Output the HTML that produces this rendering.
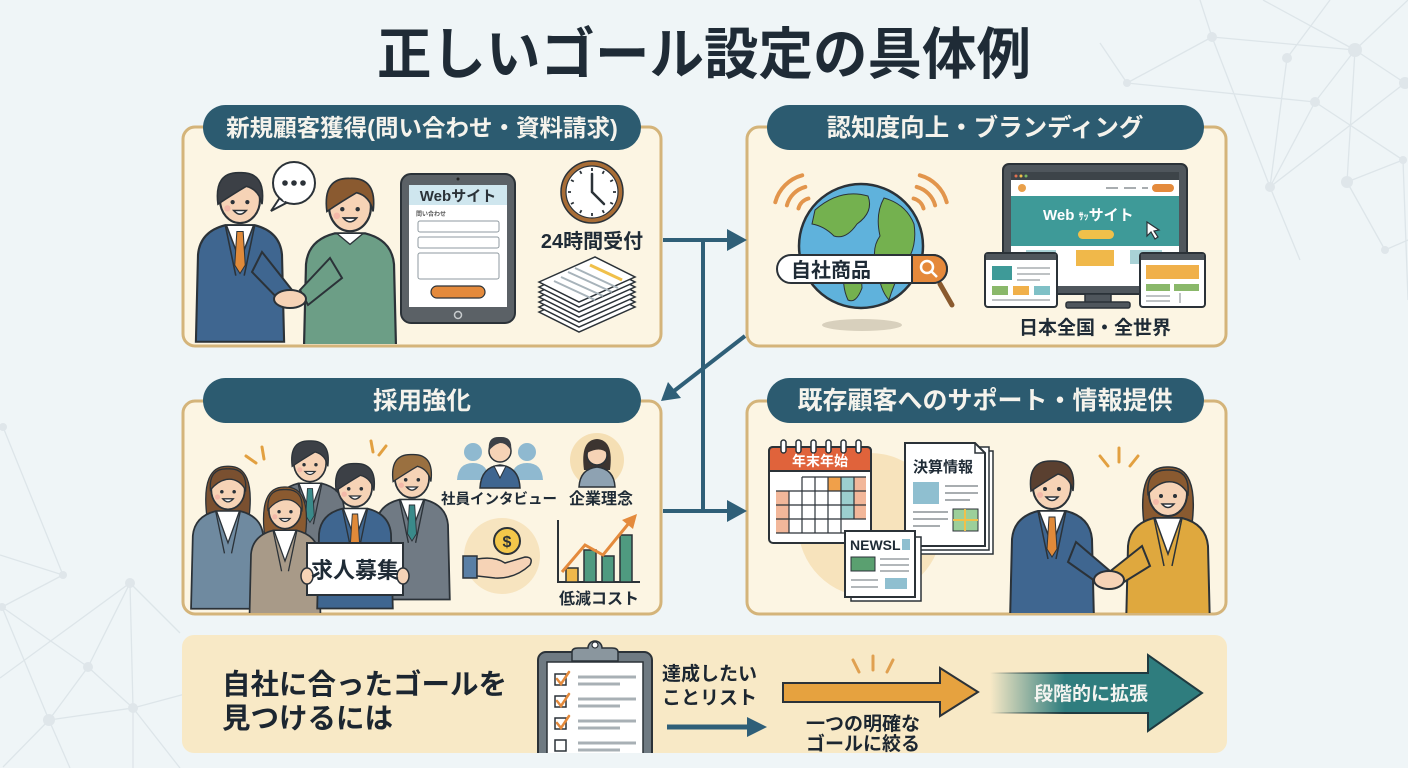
<!DOCTYPE html>
<html><head><meta charset="utf-8">
<style>
html,body{margin:0;padding:0;width:1408px;height:768px;overflow:hidden;background:#eff5f7}
svg{display:block}
text{font-family:"Liberation Sans","Noto Sans CJK JP",sans-serif;font-weight:bold}
</style></head>
<body>
<svg width="1408" height="768" viewBox="0 0 1408 768">
<defs>
  <clipPath id="cTL"><rect x="184" y="128" width="476" height="216" rx="11"/></clipPath>
  <clipPath id="cTR"><rect x="748" y="128" width="477" height="216" rx="11"/></clipPath>
  <clipPath id="cBL"><rect x="184" y="402" width="476" height="211" rx="11"/></clipPath>
  <clipPath id="cBR"><rect x="748" y="402" width="477" height="211" rx="11"/></clipPath>
  <clipPath id="cBar"><rect x="182" y="635" width="1045" height="118" rx="12"/></clipPath>
  <linearGradient id="tg" gradientUnits="userSpaceOnUse" x1="990" y1="0" x2="1065" y2="0">
    <stop offset="0" stop-color="#2f7d7e" stop-opacity="0"/>
    <stop offset="1" stop-color="#2f7d7e" stop-opacity="1"/>
  </linearGradient>
  <linearGradient id="tgs" gradientUnits="userSpaceOnUse" x1="990" y1="0" x2="1065" y2="0">
    <stop offset="0" stop-color="#1f3a40" stop-opacity="0"/>
    <stop offset="1" stop-color="#1f3a40" stop-opacity="1"/>
  </linearGradient>
  <g id="face">
    <ellipse rx="19" ry="22" fill="#f6d3b6" stroke="#2b3238" stroke-width="2"/>
    <circle cx="-7" cy="2" r="2" fill="#2b3238"/><circle cx="7" cy="2" r="2" fill="#2b3238"/>
    <path d="M-6,10 Q0,17 6,10 Z" fill="#fff" stroke="#2b3238" stroke-width="1.5"/>
    <circle cx="-12" cy="8" r="3" fill="#f2a9a0" opacity="0.6"/>
  </g>
  <path id="body" d="M-42,135 L-40,52 Q-38,30 -14,24 L14,24 Q38,30 40,52 L42,135 Z"/>
  <path id="mhair" d="M-21,4 Q-25,-27 0,-26 Q25,-27 21,4 Q18,-10 6,-13 Q-6,-6 -21,4 Z"/>
  <path id="shirt" d="M-13,24 L0,58 L13,24 Z" fill="#fff" stroke="#2b3238" stroke-width="1.5"/>
  <path id="tie" d="M-3,30 L3,30 L5,62 L0,70 L-5,62 Z"/>
  <path id="lapel" d="M-14,24 L-4,72 M14,24 L4,72" fill="none" stroke="#2b3238" stroke-width="1.5"/>
  <path id="whairback" d="M-24,30 Q-31,-28 0,-27 Q31,-28 24,30 Z"/>
  <path id="bangs" d="M-20,0 Q-22,-25 0,-24 Q22,-25 20,0 Q12,-14 -2,-12 Q-12,-10 -20,0 Z"/>
</defs>

<!-- background -->
<rect width="1408" height="768" fill="#eff5f7"/>
<g stroke="#dde5e9" stroke-width="1.3" fill="none">
  <path d="M1200,0 L1212,37 L1127,83 L1100,43 M1212,37 L1355,50 M1212,37 L1270,187 M1127,83 L1315,102 L1355,50 M1315,102 L1403,160 M1315,102 L1270,187 M1287,58 L1270,187 M1287,58 L1330,0 M1355,50 L1405,83 M1355,50 L1263,0 M1355,50 L1347,182 M1270,187 L1405,83 M1347,182 L1403,160 M1347,182 L1385,250 M1403,160 L1408,300 M1355,50 L1408,0 M1270,187 L1300,260 M1385,250 L1408,240"/>
  <path d="M3,427 L63,575 M0,555 L63,575 L2,607 L88,667 L49,720 M130,583 L88,667 M130,583 L133,708 M130,583 L0,678 M130,583 L180,633 M88,667 L133,708 L49,720 M49,720 L3,767 M49,720 L70,768 M133,708 L200,690 M133,708 L180,768 M133,708 L133,768 M2,607 L49,720"/>
</g>
<g fill="#dfe6ea">
  <circle cx="1212" cy="37" r="5"/><circle cx="1127" cy="83" r="4"/><circle cx="1287" cy="58" r="5"/><circle cx="1355" cy="50" r="7"/>
  <circle cx="1315" cy="102" r="5"/><circle cx="1405" cy="83" r="6"/><circle cx="1270" cy="187" r="5"/><circle cx="1347" cy="182" r="6"/><circle cx="1403" cy="160" r="4"/><circle cx="1385" cy="250" r="4"/>
  <circle cx="3" cy="427" r="4"/><circle cx="63" cy="575" r="4"/><circle cx="2" cy="607" r="4"/><circle cx="130" cy="583" r="5"/>
  <circle cx="88" cy="667" r="5"/><circle cx="49" cy="720" r="6"/><circle cx="133" cy="708" r="5"/>
</g>

<!-- title -->
<text x="377" y="74" font-size="56" fill="#1f2b36" textLength="654" lengthAdjust="spacingAndGlyphs">正しいゴール設定の具体例</text>

<!-- panels -->
<rect x="183" y="127" width="478" height="219" rx="12" fill="#fcf5e3" stroke="#d4b47a" stroke-width="3"/>
<rect x="747" y="127" width="479" height="219" rx="12" fill="#fcf5e3" stroke="#d4b47a" stroke-width="3"/>
<rect x="183" y="401" width="478" height="213" rx="12" fill="#fcf5e3" stroke="#d4b47a" stroke-width="3"/>
<rect x="747" y="401" width="479" height="213" rx="12" fill="#fcf5e3" stroke="#d4b47a" stroke-width="3"/>

<!-- TL content -->
<g clip-path="url(#cTL)">
  <path d="M281,196 L271,211 L290,201 Z" fill="#fff" stroke="#2b3238" stroke-width="2"/>
  <circle cx="294" cy="183" r="21" fill="#fff" stroke="#2b3238" stroke-width="2"/>
  <path d="M283,200 L289,196" stroke="#fff" stroke-width="4"/>
  <circle cx="285" cy="183" r="2.8" fill="#2b3238"/><circle cx="294" cy="183" r="2.8" fill="#2b3238"/><circle cx="303" cy="183" r="2.8" fill="#2b3238"/>
  <g transform="translate(350,207) scale(1.1)">
    <use href="#body" fill="#6c9e86" stroke="#2b3238" stroke-width="2"/>
    <path d="M-12,24 L0,34 L12,24 Z" fill="#fff" stroke="#2b3238" stroke-width="1.2"/>
    <use href="#face"/>
    <use href="#mhair" fill="#8a5a30" stroke="#2b3238" stroke-width="1.5"/>
  </g>
  <g transform="translate(240,200) scale(1.05)">
    <use href="#body" fill="#3f6690" stroke="#2b3238" stroke-width="2"/>
    <use href="#shirt"/>
    <use href="#tie" fill="#e08a3a" stroke="#2b3238" stroke-width="1"/>
    <use href="#lapel"/>
    <use href="#face"/>
    <use href="#mhair" fill="#3c4046" stroke="#2b3238" stroke-width="1.5"/>
  </g>
  <path d="M262,252 L292,290 L284,305 L252,272 Z" fill="#3f6690" stroke="#2b3238" stroke-width="2"/>
  <path d="M330,258 L300,290 L308,305 L342,278 Z" fill="#6c9e86" stroke="#2b3238" stroke-width="2"/>
  <ellipse cx="290" cy="299" rx="16" ry="9" fill="#f6d3b6" stroke="#2b3238" stroke-width="2"/>
  <rect x="401" y="174" width="114" height="149" rx="10" fill="#5b6166" stroke="#2b3238" stroke-width="2"/>
  <rect x="409" y="185" width="98" height="122" fill="#fff"/>
  <rect x="409" y="185" width="98" height="20" fill="#cfe6ee"/>
  <circle cx="458" cy="179" r="1.5" fill="#222"/>
  <text x="458" y="201" font-size="15" text-anchor="middle" fill="#2b3238">Webサイト</text>
  <text x="416" y="216" font-size="6" fill="#555">問い合わせ</text>
  <rect x="418" y="221" width="81" height="11" rx="2" fill="#fff" stroke="#8f9aa0"/>
  <rect x="418" y="237" width="81" height="11" rx="2" fill="#fff" stroke="#8f9aa0"/>
  <rect x="418" y="253" width="81" height="26" rx="2" fill="#fff" stroke="#8f9aa0"/>
  <rect x="431" y="286" width="54" height="12" rx="6" fill="#e48a3c" stroke="#2b3238" stroke-width="1.2"/>
  <circle cx="458" cy="315" r="3.5" fill="none" stroke="#c8ccce" stroke-width="1.5"/>
  <circle cx="592" cy="192" r="31" fill="#a86d36" stroke="#2b3238" stroke-width="1.5"/>
  <circle cx="592" cy="192" r="26" fill="#fff" stroke="#2b3238" stroke-width="1.2"/>
  <g stroke="#2b3238" stroke-width="1.8">
    <line x1="592" y1="171" x2="592" y2="168"/><line x1="602.5" y1="173.8" x2="604" y2="171"/><line x1="610.2" y1="181.5" x2="613" y2="180"/>
    <line x1="613" y1="192" x2="616" y2="192"/><line x1="610.2" y1="202.5" x2="613" y2="204"/><line x1="602.5" y1="210.2" x2="604" y2="213"/>
    <line x1="592" y1="213" x2="592" y2="216"/><line x1="581.5" y1="210.2" x2="580" y2="213"/><line x1="573.8" y1="202.5" x2="571" y2="204"/>
    <line x1="571" y1="192" x2="568" y2="192"/><line x1="573.8" y1="181.5" x2="571" y2="180"/><line x1="581.5" y1="173.8" x2="580" y2="171"/>
  </g>
  <path d="M592,192 L592,174 M592,192 L604,204" stroke="#2b3238" stroke-width="2.5" stroke-linecap="round"/>
  <text x="592" y="248" font-size="20" text-anchor="middle" fill="#1f2b36">24時間受付</text>
  <g fill="#fff" stroke="#2b3238" stroke-width="1.5">
    <polygon points="539,312 595,287 635,307 579,332"/>
    <polygon points="539,307 595,282 635,302 579,327"/>
    <polygon points="539,302 595,277 635,297 579,322"/>
    <polygon points="539,297 595,272 635,292 579,317"/>
    <polygon points="539,292 595,267 635,287 579,312"/>
    <polygon points="539,287 595,262 635,282 579,307"/>
    <polygon points="539,282 595,257 635,277 579,302"/>
  </g>
  <path d="M590,265 L622,280" stroke="#f0c04a" stroke-width="3"/>
  <path d="M568,272 L612,292 M561,277 L603,296 M554,281 L595,300 M575,268 L618,288" stroke="#a7b3ba" stroke-width="2"/>
</g>

<!-- TR content -->
<g clip-path="url(#cTR)">
  <ellipse cx="862" cy="325" rx="40" ry="6" fill="#d8d0bd"/>
  <g stroke="#e2954c" stroke-width="4" fill="none" stroke-linecap="round">
    <path d="M798.5,208.4 A14,14 0 0 1 808.4,198.5"/>
    <path d="M786.9,205.3 A26,26 0 0 1 805.3,186.9"/>
    <path d="M775.3,202.2 A38,38 0 0 1 802.2,175.3"/>
    <path d="M913.6,198.5 A14,14 0 0 1 923.5,208.4"/>
    <path d="M916.7,186.9 A26,26 0 0 1 935.1,205.3"/>
    <path d="M919.8,175.3 A38,38 0 0 1 946.7,202.2"/>
  </g>
  <circle cx="861" cy="246" r="62" fill="#5fb2dc" stroke="#2b3238" stroke-width="2.5"/>
  <g fill="#74b14f" stroke="#2b3238" stroke-width="1">
    <path d="M815,210 Q840,188 868,196 Q874,212 857,224 Q846,240 834,236 Q824,226 812,224 Z"/>
    <path d="M884,198 Q906,204 914,224 Q918,250 902,268 Q893,286 889,300 Q880,290 878,270 Q870,250 880,236 Q875,214 884,198 Z"/>
    <path d="M845,266 Q862,268 862,288 Q856,304 848,300 Q841,285 845,266 Z"/>
  </g>
  <line x1="940" y1="284" x2="952" y2="305" stroke="#8a5a2e" stroke-width="5" stroke-linecap="round"/>
  <rect x="777" y="255" width="170" height="28" rx="14" fill="#fff" stroke="#2b3238" stroke-width="2"/>
  <path d="M912,255 H933 A14,14 0 0 1 933,283 H912 Z" fill="#e5893b" stroke="#2b3238" stroke-width="2"/>
  <circle cx="927" cy="267" r="6" fill="none" stroke="#fff" stroke-width="2.5"/>
  <line x1="931" y1="271" x2="937" y2="277" stroke="#fff" stroke-width="2.5"/>
  <text x="791" y="277" font-size="20" fill="#1f2b36">自社商品</text>
  <rect x="1003" y="164" width="184" height="130" rx="6" fill="#4f565c" stroke="#2b3238" stroke-width="2"/>
  <rect x="1011" y="172" width="168" height="114" fill="#fff"/>
  <rect x="1011" y="172" width="168" height="8" fill="#3d4449"/>
  <circle cx="1016" cy="176" r="1.5" fill="#e07050"/><circle cx="1021" cy="176" r="1.5" fill="#f0c04a"/><circle cx="1026" cy="176" r="1.5" fill="#7ab860"/>
  <circle cx="1022" cy="188" r="4" fill="#e9a04a"/>
  <path d="M1106,188 H1118 M1124,188 H1136 M1142,188 H1148" stroke="#a8adb0" stroke-width="2"/>
  <rect x="1152" y="184" width="22" height="8" rx="4" fill="#e48a3c"/>
  <rect x="1011" y="196" width="168" height="50" fill="#3e9a98"/>
  <text x="1043" y="220" font-size="15" fill="#fff">Web <tspan font-size="10">ｻｯ</tspan>サイト</text>
  <rect x="1078" y="230" width="36" height="9" rx="4.5" fill="#f0c04a"/>
  <polygon points="1147,222 1147,236 1151,232 1155,239 1158,237 1154,231 1159,230" fill="#fff" stroke="#2b3238" stroke-width="1.2"/>
  <rect x="1026" y="250" width="30" height="14" fill="#a9d2d6"/>
  <rect x="1076" y="250" width="38" height="16" fill="#f0b84a"/>
  <rect x="1130" y="250" width="32" height="14" fill="#a9d2d6"/>
  <rect x="1085" y="294" width="26" height="10" fill="#4f565c" stroke="#2b3238" stroke-width="1.5"/>
  <rect x="1066" y="302" width="64" height="6" rx="2" fill="#4f565c" stroke="#2b3238" stroke-width="1.5"/>
  <rect x="985" y="253" width="72" height="54" rx="3" fill="#fff" stroke="#2b3238" stroke-width="2"/>
  <rect x="986" y="254" width="70" height="6" fill="#4f565c"/>
  <rect x="992" y="266" width="20" height="14" fill="#3e9a98"/>
  <path d="M1017,268 H1050 M1017,274 H1050 M1017,280 H1040" stroke="#a8adb0" stroke-width="1.5"/>
  <rect x="992" y="286" width="16" height="9" fill="#8ab86a"/><rect x="1013" y="286" width="16" height="9" fill="#f0b04a"/><rect x="1034" y="286" width="16" height="9" fill="#7fc0c6"/>
  <path d="M992,300 H1050" stroke="#a8adb0" stroke-width="1.5"/>
  <rect x="1140" y="253" width="65" height="54" rx="3" fill="#fff" stroke="#2b3238" stroke-width="2"/>
  <rect x="1141" y="254" width="63" height="6" fill="#4f565c"/>
  <rect x="1146" y="265" width="53" height="14" fill="#f0b04a"/>
  <rect x="1146" y="284" width="24" height="7" fill="#8ab86a"/><rect x="1174" y="284" width="25" height="7" fill="#8ab86a"/>
  <path d="M1146,296 H1170 M1146,301 H1170 M1180,293 V303" stroke="#a8adb0" stroke-width="1.5"/>
  <text x="1095" y="334" font-size="19" text-anchor="middle" fill="#1f2b36">日本全国・全世界</text>
</g>

<!-- BL content -->
<g clip-path="url(#cBL)">
  <g stroke="#e2a040" stroke-width="3" stroke-linecap="round">
    <line x1="246" y1="456" x2="256" y2="463"/><line x1="262" y1="447" x2="264" y2="459"/>
    <line x1="371" y1="441" x2="373" y2="452"/><line x1="386" y1="446" x2="379" y2="455"/>
  </g>
  <g transform="translate(310,463) scale(0.85)">
    <use href="#body" fill="#6e7780" stroke="#2b3238" stroke-width="2"/>
    <use href="#shirt"/><use href="#tie" fill="#3a8a8a" stroke="#2b3238" stroke-width="1"/><use href="#lapel"/>
    <use href="#face"/><use href="#mhair" fill="#3c4046" stroke="#2b3238" stroke-width="1.5"/>
  </g>
  <g transform="translate(228,490) scale(0.88)">
    <use href="#whairback" fill="#7a5030" stroke="#2b3238" stroke-width="1.5"/>
    <use href="#body" fill="#6f8aa0" stroke="#2b3238" stroke-width="2"/>
    <path d="M-13,24 L0,60 L13,24 Z" fill="#fff" stroke="#2b3238" stroke-width="1.5"/>
    <use href="#lapel"/>
    <use href="#face"/><use href="#bangs" fill="#7a5030" stroke="#2b3238" stroke-width="1.5"/>
  </g>
  <g transform="translate(412,478) scale(0.9)">
    <use href="#body" fill="#707a84" stroke="#2b3238" stroke-width="2"/>
    <use href="#shirt"/><use href="#tie" fill="#3a8a8a" stroke="#2b3238" stroke-width="1"/><use href="#lapel"/>
    <use href="#face"/><use href="#mhair" fill="#9a7040" stroke="#2b3238" stroke-width="1.5"/>
  </g>
  <g transform="translate(285,510) scale(0.85)">
    <use href="#whairback" fill="#8a5a30" stroke="#2b3238" stroke-width="1.5"/>
    <use href="#body" fill="#a89a88" stroke="#2b3238" stroke-width="2"/>
    <path d="M-13,24 L0,60 L13,24 Z" fill="#fff" stroke="#2b3238" stroke-width="1.5"/>
    <use href="#lapel"/>
    <use href="#face"/><use href="#bangs" fill="#8a5a30" stroke="#2b3238" stroke-width="1.5"/>
  </g>
  <g transform="translate(355,487) scale(0.9)">
    <use href="#body" fill="#3f6690" stroke="#2b3238" stroke-width="2"/>
    <use href="#shirt"/><use href="#tie" fill="#e08a3a" stroke="#2b3238" stroke-width="1"/><use href="#lapel"/>
    <use href="#face"/><use href="#mhair" fill="#3c4046" stroke="#2b3238" stroke-width="1.5"/>
  </g>
  <rect x="307" y="543" width="96" height="52" fill="#fff" stroke="#2b3238" stroke-width="2"/>
  <ellipse cx="307" cy="576" rx="6" ry="8" fill="#f6d3b6" stroke="#2b3238" stroke-width="1.5"/>
  <ellipse cx="403" cy="576" rx="6" ry="8" fill="#f6d3b6" stroke="#2b3238" stroke-width="1.5"/>
  <text x="355" y="578" font-size="22" text-anchor="middle" fill="#1f2b36">求人募集</text>
  <g fill="#8fb9d0">
    <circle cx="473" cy="452" r="9"/><path d="M457,480 Q458,463 473,463 Q488,463 489,480 Z"/>
    <circle cx="527" cy="452" r="9"/><path d="M511,480 Q512,463 527,463 Q542,463 543,480 Z"/>
  </g>
  <path d="M480,488 Q481,467 500,465 Q519,467 520,488 Z" fill="#3f6690" stroke="#2b3238" stroke-width="1.5"/>
  <path d="M494,466 L500,478 L506,466 Z" fill="#fff" stroke="#2b3238" stroke-width="1"/>
  <circle cx="500" cy="451" r="11" fill="#f6d3b6" stroke="#2b3238" stroke-width="1.5"/>
  <path d="M489,451 Q487,436 500,437 Q513,436 511,451 Q507,443 500,443 Q493,445 489,451 Z" fill="#3c4046"/>
  <circle cx="597" cy="460" r="27" fill="#f5dfb4"/>
  <path d="M584,470 Q580,440 597,439 Q614,440 610,470 Z" fill="#3c3430"/>
  <path d="M579,487 Q580,469 597,467 Q614,469 615,487 Z" fill="#8ea2b2" stroke="#2b3238" stroke-width="1.5"/>
  <circle cx="597" cy="455" r="10" fill="#f6d3b6" stroke="#2b3238" stroke-width="1.5"/>
  <path d="M587,453 Q588,442 597,442 Q606,442 607,453 Q600,446 587,453 Z" fill="#3c3430"/>
  <text x="499" y="504" font-size="14.5" text-anchor="middle" fill="#1f2b36">社員インタビュー</text>
  <text x="601" y="504" font-size="16" text-anchor="middle" fill="#1f2b36">企業理念</text>
  <circle cx="502" cy="556" r="38" fill="#f7e4bf"/>
  <circle cx="507" cy="541" r="13" fill="#f3c74a" stroke="#2b3238" stroke-width="2"/>
  <text x="507" y="547" font-size="16" text-anchor="middle" fill="#2b3238">$</text>
  <rect x="463" y="556" width="14" height="22" fill="#5a7fa5" stroke="#2b3238" stroke-width="1.5"/>
  <path d="M477,559 Q495,556 505,563 L525,557 Q534,557 530,565 Q515,579 495,578 L477,576 Z" fill="#f6d3b6" stroke="#2b3238" stroke-width="1.5"/>
  <path d="M558,520 V582 H640" stroke="#2b3238" stroke-width="2" fill="none"/>
  <g stroke="#2b3238" stroke-width="1.5">
    <rect x="566" y="568" width="12" height="14" fill="#f0b84a"/>
    <rect x="584" y="550" width="12" height="32" fill="#4f9a80"/>
    <rect x="602" y="556" width="12" height="26" fill="#4f9a80"/>
    <rect x="620" y="535" width="12" height="47" fill="#4f9a80"/>
  </g>
  <polyline points="562,572 585,545 603,555 629,523" fill="none" stroke="#e48a3c" stroke-width="3"/>
  <polygon points="622,520 637,514 633,529" fill="#e48a3c"/>
  <text x="599" y="604" font-size="16" text-anchor="middle" fill="#1f2b36">低減コスト</text>
</g>

<!-- BR content -->
<g clip-path="url(#cBR)">
  <circle cx="870" cy="525" r="72" fill="#f7e3bc"/>
  <rect x="769" y="447" width="102" height="96" rx="4" fill="#fff" stroke="#2b3238" stroke-width="2"/>
  <path d="M769,471 V451 Q769,447 773,447 H867 Q871,447 871,451 V471 Z" fill="#e0633b" stroke="#2b3238" stroke-width="2"/>
  <g fill="#fff" stroke="#2b3238" stroke-width="1.5">
    <rect x="781" y="440" width="5" height="13" rx="2.5"/><rect x="796" y="440" width="5" height="13" rx="2.5"/><rect x="811" y="440" width="5" height="13" rx="2.5"/>
    <rect x="826" y="440" width="5" height="13" rx="2.5"/><rect x="841" y="440" width="5" height="13" rx="2.5"/><rect x="856" y="440" width="5" height="13" rx="2.5"/>
  </g>
  <text x="820" y="466" font-size="14" text-anchor="middle" fill="#fff">年末年始</text>
  <g>
    <rect x="776" y="491" width="13" height="14" fill="#f2b79a"/><rect x="776" y="505" width="13" height="14" fill="#f2b79a"/><rect x="776" y="519" width="13" height="14" fill="#f2b79a"/>
    <rect x="854" y="477" width="12" height="14" fill="#f2b79a"/><rect x="854" y="491" width="12" height="14" fill="#f2b79a"/><rect x="854" y="505" width="12" height="14" fill="#f2b79a"/>
    <rect x="841" y="477" width="13" height="14" fill="#9ccfcf"/><rect x="841" y="491" width="13" height="14" fill="#9ccfcf"/><rect x="841" y="505" width="13" height="14" fill="#9ccfcf"/>
    <rect x="828" y="477" width="13" height="14" fill="#f0a04a"/>
  </g>
  <path d="M776,491 H866 M776,505 H866 M776,519 H866 M776,533 H854 M789,491 V533 M802,477 V533 M815,477 V533 M828,477 V533 M841,477 V533 M854,477 V519 M802,477 H866" stroke="#2b3238" stroke-width="1.2" fill="none"/>
  <rect x="913" y="451" width="80" height="103" fill="#fff" stroke="#2b3238" stroke-width="1.5"/>
  <rect x="909" y="447" width="80" height="103" fill="#fff" stroke="#2b3238" stroke-width="1.5"/>
  <path d="M905,443 H975 L985,453 V546 H905 Z" fill="#fff" stroke="#2b3238" stroke-width="2"/>
  <path d="M975,443 V453 H985" fill="none" stroke="#2b3238" stroke-width="1.5"/>
  <text x="913" y="472" font-size="15" fill="#1f2b36">決算情報</text>
  <rect x="913" y="482" width="26" height="22" fill="#8fbfd0"/>
  <path d="M945,486 H978 M945,493 H978 M945,500 H970 M913,512 H948 M913,519 H948 M913,526 H940" stroke="#a8adb0" stroke-width="2"/>
  <rect x="953" y="509" width="25" height="22" fill="#9ccf9a" stroke="#2b3238" stroke-width="1"/>
  <path d="M953,520 H978 M965,509 V531" stroke="#f0c04a" stroke-width="2"/>
  <rect x="851" y="537" width="70" height="64" fill="#fff" stroke="#2b3238" stroke-width="1.5"/>
  <rect x="845" y="531" width="70" height="66" fill="#fff" stroke="#2b3238" stroke-width="2"/>
  <text x="850" y="550" font-size="14" fill="#1f2b36">NEWSL</text>
  <rect x="902" y="539" width="8" height="11" fill="#8fbfd0"/>
  <rect x="851" y="557" width="24" height="14" fill="#5aa070" stroke="#2b3238" stroke-width="1"/>
  <path d="M880,559 H909 M880,565 H909 M880,571 H909 M851,580 H878 M851,587 H878" stroke="#a8adb0" stroke-width="1.8"/>
  <rect x="885" y="578" width="22" height="11" fill="#8fbfd0"/>
  <g stroke="#e2a040" stroke-width="3" stroke-linecap="round">
    <line x1="1100" y1="456" x2="1108" y2="466"/><line x1="1119" y1="448" x2="1119" y2="462"/><line x1="1138" y1="456" x2="1130" y2="466"/>
  </g>
  <g transform="translate(1168,494) scale(1.0)">
    <use href="#whairback" fill="#8a5a30" stroke="#2b3238" stroke-width="1.5"/>
    <use href="#body" fill="#dfa83e" stroke="#2b3238" stroke-width="2"/>
    <path d="M-13,24 L0,60 L13,24 Z" fill="#fff" stroke="#2b3238" stroke-width="1.5"/>
    <use href="#lapel"/>
    <use href="#face"/><use href="#bangs" fill="#8a5a30" stroke="#2b3238" stroke-width="1.5"/>
  </g>
  <g transform="translate(1052,487) scale(1.0)">
    <use href="#body" fill="#3f6690" stroke="#2b3238" stroke-width="2"/>
    <use href="#shirt"/><use href="#tie" fill="#e08a3a" stroke="#2b3238" stroke-width="1"/><use href="#lapel"/>
    <use href="#face"/><use href="#mhair" fill="#5a4030" stroke="#2b3238" stroke-width="1.5"/>
  </g>
  <path d="M1076,542 L1110,571 L1102,586 L1068,562 Z" fill="#3f6690" stroke="#2b3238" stroke-width="2"/>
  <path d="M1142,546 L1108,573 L1116,587 L1150,566 Z" fill="#dfa83e" stroke="#2b3238" stroke-width="2"/>
  <ellipse cx="1109" cy="580" rx="15" ry="9" fill="#f6d3b6" stroke="#2b3238" stroke-width="2"/>
</g>

<!-- header pills -->
<rect x="203" y="105" width="438" height="45" rx="22.5" fill="#2c5b70"/>
<text x="422" y="136" font-size="23.5" text-anchor="middle" fill="#f5f3ec">新規顧客獲得(問い合わせ・資料請求)</text>
<rect x="767" y="105" width="437" height="45" rx="22.5" fill="#2c5b70"/>
<text x="985" y="136" font-size="24.5" text-anchor="middle" fill="#f5f3ec">認知度向上・ブランディング</text>
<rect x="203" y="378" width="438" height="45" rx="22.5" fill="#2c5b70"/>
<text x="422" y="409" font-size="24.5" text-anchor="middle" fill="#f5f3ec">採用強化</text>
<rect x="767" y="378" width="437" height="45" rx="22.5" fill="#2c5b70"/>
<text x="985" y="409" font-size="25" text-anchor="middle" fill="#f5f3ec">既存顧客へのサポート・情報提供</text>

<!-- connectors -->
<g stroke="#2f5f78" stroke-width="4" fill="none">
  <path d="M663,240 H730"/>
  <path d="M703,240 V511"/>
  <path d="M663,511 H730"/>
  <path d="M745,336 L674,391"/>
</g>
<g fill="#2f5f78">
  <polygon points="727,229 747,240 727,251"/>
  <polygon points="727,500 747,511 727,522"/>
  <polygon points="661,401 681,398 668,382"/>
</g>

<!-- bottom bar -->
<rect x="182" y="635" width="1045" height="118" rx="12" fill="#f8e9c6"/>
<text x="222" y="694" font-size="28.5" fill="#1c2630">自社に合ったゴールを</text>
<text x="222" y="728" font-size="28.5" fill="#1c2630">見つけるには</text>
<g clip-path="url(#cBar)">
  <rect x="538" y="652" width="114" height="120" rx="8" fill="#6f7a82" stroke="#2b3238" stroke-width="2"/>
  <rect x="547" y="662" width="96" height="110" fill="#fff" stroke="#2b3238" stroke-width="1.5"/>
  <path d="M572,661 V652 Q572,648 578,648 H588 A7,7 0 0 1 602,648 H612 Q618,648 618,652 V661 Z" fill="#8a969e" stroke="#2b3238" stroke-width="1.5"/>
  <circle cx="595" cy="645" r="3" fill="#fff" stroke="#2b3238" stroke-width="1.2"/>
  <g fill="#fff" stroke="#2b3238" stroke-width="1.5">
    <rect x="555" y="674" width="11" height="11"/><rect x="555" y="696" width="11" height="11"/><rect x="555" y="718" width="11" height="11"/><rect x="555" y="740" width="11" height="11"/>
  </g>
  <g fill="none" stroke="#e48a3c" stroke-width="2.5" stroke-linecap="round">
    <path d="M557,679 L561,684 L569,672"/><path d="M557,701 L561,706 L569,694"/><path d="M557,723 L561,728 L569,716"/>
  </g>
  <path d="M578,677 H636 M578,684 H620 M578,699 H636 M578,706 H620 M578,721 H636 M578,728 H620 M578,743 H636 M578,750 H620" stroke="#a8b0b5" stroke-width="3"/>
</g>
<text x="662" y="680" font-size="19" fill="#1c2630">達成したい</text>
<text x="662" y="704" font-size="19" fill="#1c2630">ことリスト</text>
<path d="M667,727 H750" stroke="#2f5f78" stroke-width="5"/>
<polygon points="747,717 767,727 747,737" fill="#2f5f78"/>
<g stroke="#e0a050" stroke-width="3" stroke-linecap="round">
  <line x1="853" y1="660" x2="859" y2="672"/><line x1="873" y1="656" x2="873" y2="670"/><line x1="893" y1="660" x2="887" y2="672"/>
</g>
<polygon points="783,683 940,683 940,668 978,692 940,716 940,702 783,702" fill="#e6a23f" stroke="#2b3238" stroke-width="2"/>
<text x="806" y="730" font-size="19" fill="#1c2630">一つの明確な</text>
<text x="806" y="750" font-size="19" fill="#1c2630">ゴールに絞る</text>
<path d="M990,673 H1148 V655 L1202,693 L1148,731 V713 H990 Z" fill="url(#tg)"/>
<path d="M990,673 H1148 V655 L1202,693 L1148,731 V713 H990" fill="none" stroke="url(#tgs)" stroke-width="2"/>
<text x="1091" y="700" font-size="19" text-anchor="middle" fill="#f4f4f0">段階的に拡張</text>
</svg>
</body></html>
